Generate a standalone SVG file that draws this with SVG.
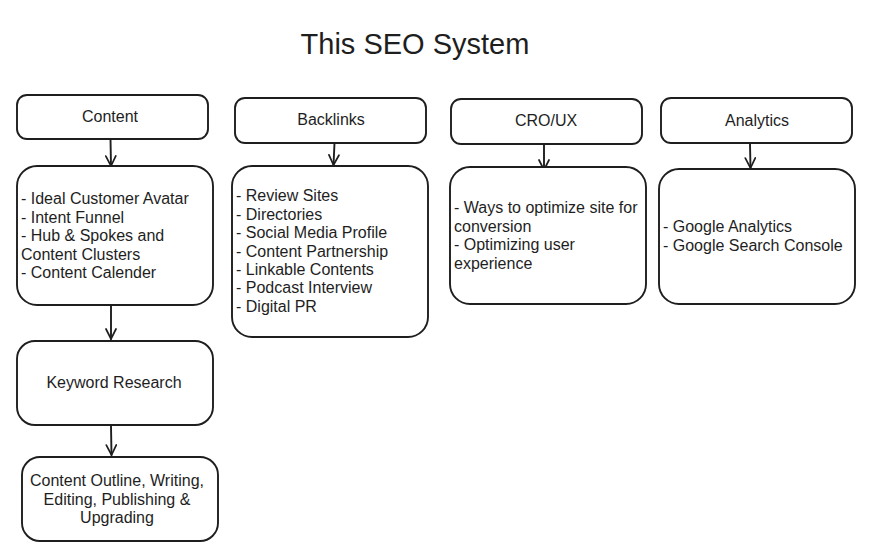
<svg xmlns="http://www.w3.org/2000/svg" width="874" height="547" viewBox="0 0 874 547">
<style>
.box{fill:#ffffff;stroke:#1e1e1e;stroke-width:1.9}
.t{font-family:"Liberation Sans",Arial,sans-serif;font-size:16px;fill:#1e1e1e}
.c{text-anchor:middle}
.title{font-family:"Liberation Sans",Arial,sans-serif;font-size:29px;fill:#1e1e1e;text-anchor:middle}
.edge{fill:none;stroke:#1e1e1e;stroke-width:1.9;stroke-linecap:round;stroke-linejoin:round}
</style>
<defs>
<marker id="arr" viewBox="0 0 12 12" refX="11" refY="6" markerWidth="12" markerHeight="12" markerUnits="userSpaceOnUse" orient="auto">
<path d="M1,1 L11,6 L1,11" fill="none" stroke="#1e1e1e" stroke-width="1.7" stroke-linecap="round"/>
</marker>
</defs>
<rect width="874" height="547" fill="#ffffff"/>
<text class="title" x="415" y="54">This SEO System</text>

<g id="connectors">
<path class="edge" d="M110.5,139 L111,166" marker-end="url(#arr)"/>
<path class="edge" d="M111,305 L111,339" marker-end="url(#arr)"/>
<path class="edge" d="M111,426 L111.5,455" marker-end="url(#arr)"/>
<path class="edge" d="M334.5,143 L333.5,165" marker-end="url(#arr)"/>
<path class="edge" d="M544,144 L544,170" marker-end="url(#arr)"/>
<path class="edge" d="M750,144 L750.5,168" marker-end="url(#arr)"/>
</g>

<g id="content">
<rect class="box" x="17" y="95" width="191" height="44" rx="10"/>
<text class="t c" x="110" y="122">Content</text>
</g>
<g id="content-list">
<rect class="box" x="17" y="166" width="196" height="139" rx="20"/>
<text class="t" x="21" y="204">- Ideal Customer Avatar</text>
<text class="t" x="21" y="223">- Intent Funnel</text>
<text class="t" x="21" y="241">- Hub &amp; Spokes and</text>
<text class="t" x="21" y="260">Content Clusters</text>
<text class="t" x="21" y="278">- Content Calender</text>
</g>
<g id="keyword">
<rect class="box" x="17" y="341" width="196" height="84" rx="18"/>
<text class="t c" x="114" y="388">Keyword Research</text>
</g>
<g id="outline">
<rect class="box" x="22" y="457" width="196" height="84" rx="18"/>
<text class="t c" x="117" y="486">Content Outline, Writing,</text>
<text class="t c" x="117" y="505">Editing, Publishing &amp;</text>
<text class="t c" x="117" y="523">Upgrading</text>
</g>

<g id="backlinks">
<rect class="box" x="235" y="98" width="191" height="45" rx="10"/>
<text class="t c" x="331" y="125">Backlinks</text>
</g>
<g id="backlinks-list">
<rect class="box" x="232" y="166" width="196" height="171" rx="20"/>
<text class="t" x="236" y="201">- Review Sites</text>
<text class="t" x="236" y="220">- Directories</text>
<text class="t" x="236" y="238">- Social Media Profile</text>
<text class="t" x="236" y="257">- Content Partnership</text>
<text class="t" x="236" y="275">- Linkable Contents</text>
<text class="t" x="236" y="293">- Podcast Interview</text>
<text class="t" x="236" y="312">- Digital PR</text>
</g>

<g id="cro">
<rect class="box" x="451" y="99" width="191" height="45" rx="10"/>
<text class="t c" x="546" y="126">CRO/UX</text>
</g>
<g id="cro-list">
<rect class="box" x="450" y="167" width="196" height="137" rx="20"/>
<text class="t" x="454" y="213">- Ways to optimize site for</text>
<text class="t" x="454" y="232">conversion</text>
<text class="t" x="454" y="250">- Optimizing user</text>
<text class="t" x="454" y="269">experience</text>
</g>

<g id="analytics">
<rect class="box" x="661" y="98" width="191" height="45" rx="10"/>
<text class="t c" x="757" y="126">Analytics</text>
</g>
<g id="analytics-list">
<rect class="box" x="659" y="169" width="196" height="135" rx="20"/>
<text class="t" x="663" y="232">- Google Analytics</text>
<text class="t" x="663" y="251">- Google Search Console</text>
</g>
</svg>
